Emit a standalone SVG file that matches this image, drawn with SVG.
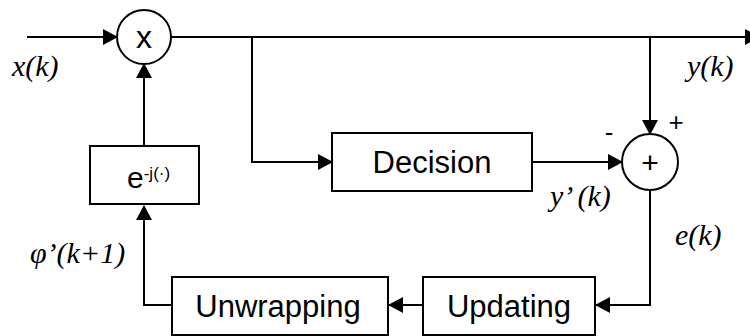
<svg xmlns="http://www.w3.org/2000/svg" width="750" height="336" viewBox="0 0 750 336">
<style>
.box{fill:#fff;stroke:#000;stroke-width:2}
.ln{fill:none;stroke:#000;stroke-width:2}
.t{font-family:"Liberation Sans",Arial,sans-serif;fill:#000}
.i{font-family:"Liberation Serif","Times New Roman",serif;font-style:italic;fill:#000;font-size:30px}
</style>
<defs>
<marker id="ah" markerUnits="userSpaceOnUse" markerWidth="15" markerHeight="16" refX="14" refY="8" orient="auto">
<path d="M0,0 L15,8 L0,16 z" fill="#000"/>
</marker>
</defs>
<rect width="750" height="336" fill="#fff"/>
<g id="connectors">
<line class="ln" x1="27" y1="37" x2="117" y2="37" marker-end="url(#ah)"/>
<line class="ln" x1="171" y1="37" x2="759" y2="37" marker-end="url(#ah)"/>
<polyline class="ln" points="252,37 252,162 332,162" marker-end="url(#ah)"/>
<line class="ln" x1="532" y1="162" x2="622" y2="162" marker-end="url(#ah)"/>
<line class="ln" x1="650" y1="37" x2="650" y2="134" marker-end="url(#ah)"/>
<polyline class="ln" points="650,190 650,305 596,305" marker-end="url(#ah)"/>
<line class="ln" x1="423" y1="305" x2="389" y2="305" marker-end="url(#ah)"/>
<polyline class="ln" points="172,305 144,305 144,206" marker-end="url(#ah)"/>
<line class="ln" x1="144" y1="146" x2="144" y2="64" marker-end="url(#ah)"/>
</g>
<g id="mult">
<circle class="box" cx="144" cy="37" r="27"/>
<text class="t" x="144" y="48" font-size="32" text-anchor="middle">x</text>
</g>
<g id="sum">
<circle class="box" cx="650" cy="162" r="28"/>
<text class="t" x="650" y="173" font-size="30" text-anchor="middle">+</text>
<text class="t" x="609" y="141" font-size="26" text-anchor="middle">-</text>
<text class="t" x="676" y="131" font-size="26" text-anchor="middle">+</text>
</g>
<g id="exp">
<rect class="box" x="90" y="146" width="109" height="58"/>
<text class="t" x="127" y="188"><tspan font-size="30">e</tspan><tspan font-size="17" dy="-9">-j(·)</tspan></text>
</g>
<g id="decision">
<rect class="box" x="332" y="133" width="200" height="58"/>
<text class="t" x="432" y="173" font-size="31" text-anchor="middle">Decision</text>
</g>
<g id="unwrapping">
<rect class="box" x="172" y="277" width="216" height="58"/>
<text class="t" x="278" y="317" font-size="31" text-anchor="middle">Unwrapping</text>
</g>
<g id="updating">
<rect class="box" x="423" y="277" width="172" height="58"/>
<text class="t" x="509" y="317" font-size="31" text-anchor="middle">Updating</text>
</g>
<g id="labels">
<text class="i" x="12" y="76">x(k)</text>
<text class="i" x="687" y="76">y(k)</text>
<text class="i" x="550" y="206">y’ (k)</text>
<text class="i" x="675" y="245">e(k)</text>
<text class="i" x="30" y="263">φ’(k+1)</text>
</g>
</svg>
